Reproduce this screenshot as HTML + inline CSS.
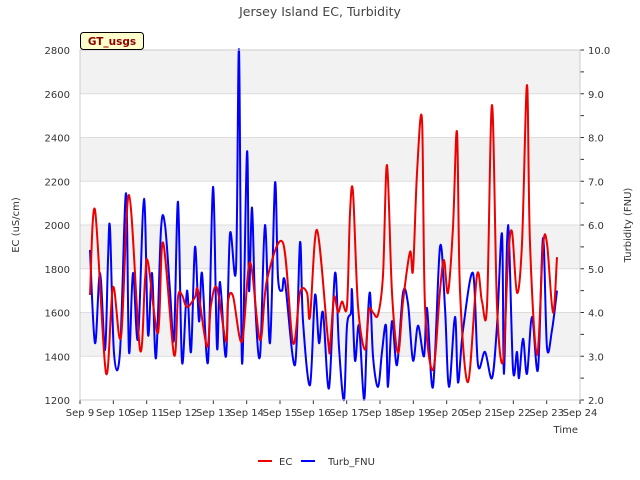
<!DOCTYPE html>
<html><head><meta charset="utf-8"><style>
body{margin:0;background:#fff}
svg{display:block;font-family:"DejaVu Sans","Liberation Sans",sans-serif}
</style></head><body>
<svg id="chart" width="640" height="480" viewBox="0 0 640 480">
<text x="320" y="16" text-anchor="middle" font-size="12.5" fill="#444">Jersey Island EC, Turbidity</text>
<g id="bands"></g><g id="grid"></g>
<g id="series"></g>
<g id="axes"></g>
<rect x="80.5" y="32.5" width="63" height="17" rx="3" fill="#ffffcc" stroke="#000"/>
<text x="112" y="45" text-anchor="middle" font-size="10.5" font-weight="bold" fill="#8b0000">GT_usgs</text>
<text transform="translate(19,225) rotate(-90)" text-anchor="middle" font-size="10" fill="#333">EC (uS/cm)</text>
<text transform="translate(631,225) rotate(-90)" text-anchor="middle" font-size="10" fill="#333">Turbidity (FNU)</text>
<text x="578" y="433" text-anchor="end" font-size="10" fill="#333">Time</text>
<g>
<line x1="258" y1="461" x2="272" y2="461" stroke="#e00" stroke-width="2"/>
<text x="279" y="465" font-size="10" fill="#333">EC</text>
<line x1="301" y1="461" x2="315" y2="461" stroke="#00f" stroke-width="2"/>
<text x="328" y="465" font-size="10" fill="#333">Turb_FNU</text>
</g>
</svg>
<script>
const xTickLabels=["Sep 9","Sep 10","Sep 11","Sep 12","Sep 13","Sep 14","Sep 15","Sep 16","Sep 17","Sep 18","Sep 19","Sep 20","Sep 21","Sep 22","Sep 23","Sep 24"];
const leftTicks=[1200,1400,1600,1800,2000,2200,2400,2600,2800];
const rightTicks=[2,3,4,5,6,7,8,9,10];
const ecDays=[0.30,0.45,0.78,0.99,1.23,1.47,1.80,1.95,2.04,2.34,2.49,2.82,2.94,3.06,3.21,3.45,3.54,3.81,3.93,4.11,4.38,4.44,4.59,4.86,5.10,5.40,5.61,6.09,6.39,6.60,6.81,6.90,7.11,7.44,7.50,7.62,7.74,7.86,8.01,8.10,8.19,8.34,8.55,8.67,8.79,8.94,9.09,9.21,9.36,9.54,9.69,9.90,9.99,10.11,10.26,10.35,10.59,10.80,10.92,11.04,11.19,11.31,11.40,11.64,11.91,12.06,12.21,12.36,12.51,12.69,12.84,12.96,13.11,13.26,13.41,13.50,13.71,13.89,14.01,14.19,14.31];
const ecValues=[1680,2069,1323,1716,1488,2137,1430,1750,1830,1506,1920,1406,1670,1680,1625,1670,1700,1443,1634,1712,1466,1650,1675,1466,1830,1474,1750,1918,1460,1690,1690,1580,1977,1474,1443,1670,1600,1650,1630,2054,2150,1630,1430,1610,1600,1590,1770,2274,1690,1415,1650,1877,1794,2237,2480,1630,1337,1700,1840,1690,1990,2425,1700,1282,1770,1650,1630,2549,1630,1374,1840,1970,1690,1915,2640,1915,1406,1900,1915,1600,1853];
const turbDays=[0.30,0.45,0.60,0.75,0.84,0.90,1.02,1.20,1.38,1.47,1.59,1.74,1.92,2.04,2.16,2.28,2.43,2.55,2.70,2.82,2.94,3.06,3.21,3.33,3.45,3.57,3.66,3.84,3.99,4.11,4.20,4.38,4.50,4.68,4.77,4.86,5.01,5.07,5.16,5.25,5.40,5.55,5.70,5.85,5.94,6.06,6.15,6.45,6.60,6.69,6.90,7.05,7.17,7.29,7.47,7.65,7.77,7.92,8.01,8.13,8.16,8.25,8.37,8.52,8.61,8.70,8.79,8.94,9.06,9.18,9.24,9.36,9.51,9.69,9.84,9.99,10.14,10.32,10.41,10.59,10.80,10.95,11.07,11.25,11.34,11.49,11.79,11.94,12.15,12.36,12.51,12.66,12.72,12.84,12.99,13.11,13.17,13.29,13.41,13.56,13.74,13.89,14.01,14.16,14.31];
const turbValues=[5.43,3.3,4.9,3.14,5.2,5.93,3.07,3.1,6.73,3.1,4.9,3.4,6.6,3.5,4.9,2.96,5.9,6.0,4.5,3.4,6.53,2.87,4.5,3.1,5.5,3.8,4.9,2.87,6.87,3.2,4.7,3.0,5.8,5.0,10.0,2.85,7.67,4.5,6.4,4.3,3.0,6.0,3.3,6.96,4.8,4.5,4.7,2.8,5.6,3.8,2.34,4.4,3.3,4.0,2.27,4.9,3.2,2.0,3.7,4.0,4.5,2.9,3.7,2.0,3.5,4.45,3.0,2.3,3.1,3.7,2.3,3.8,2.8,4.45,4.2,2.9,3.7,3.0,4.1,2.3,5.5,4.1,2.3,3.9,2.4,3.6,4.9,2.8,3.1,2.5,3.7,5.8,2.6,6.0,2.7,3.1,2.5,3.4,2.6,3.9,2.7,5.7,3.2,3.6,4.5];

const X0=80,X1=580,Y0=400,Y1=50;
const xs=d=>X0+d*(X1-X0)/15;
const yL=v=>Y0-(v-1200)*(Y0-Y1)/1600;
const yR=v=>Y0-(v-2)*(Y0-Y1)/8;
const NS="http://www.w3.org/2000/svg";
function mk(tag,attrs,parent){const e=document.createElementNS(NS,tag);for(const k in attrs)e.setAttribute(k,attrs[k]);parent.appendChild(e);return e;}
function smooth(pts){
  let d='M'+pts[0][0].toFixed(1)+','+pts[0][1].toFixed(1);
  for(let i=0;i<pts.length-1;i++){
    const p0=pts[Math.max(0,i-1)],p1=pts[i],p2=pts[i+1],p3=pts[Math.min(pts.length-1,i+2)];
    const c1=[p1[0]+(p2[0]-p0[0])/6,p1[1]+(p2[1]-p0[1])/6];
    const c2=[p2[0]-(p3[0]-p1[0])/6,p2[1]-(p3[1]-p1[1])/6];
    d+='C'+c1.map(v=>v.toFixed(1)).join(',')+' '+c2.map(v=>v.toFixed(1)).join(',')+' '+p2.map(v=>v.toFixed(1)).join(',');
  }
  return d;
}
const bands=document.getElementById('bands'),grid=document.getElementById('grid'),axes=document.getElementById('axes'),series=document.getElementById('series');
for(let i=0;i<leftTicks.length-1;i++){
  if(i%2===1){const r=mk('rect',{x:X0,y:yL(leftTicks[i+1]),width:X1-X0,height:yL(leftTicks[i])-yL(leftTicks[i+1]),fill:'#f2f2f2'},bands);
  
  }
}
leftTicks.forEach(v=>{
  const l=mk('line',{x1:X0,x2:X1,y1:yL(v),y2:yL(v),stroke:'#ddd','stroke-width':1},grid);
  
  
  const t=mk('text',{x:X0-10,y:yL(v)+4,'text-anchor':'end','font-size':10,fill:'#333'},axes);t.textContent=v;
  
  
});
rightTicks.forEach(v=>{
  const t=mk('text',{x:X1+8,y:yR(v)+4,'font-size':10,fill:'#333'},axes);t.textContent=v.toFixed(1);
  
  
  mk('line',{x1:X1,x2:X1+4,y1:yR(v),y2:yR(v),stroke:'#333'},axes);
  if(v<10){const m=mk('line',{x1:X1,x2:X1+4,y1:yR(v+0.5),y2:yR(v+0.5),stroke:'#333'},axes);
  
  }
});
xTickLabels.forEach((s,i)=>{
  const t=mk('text',{x:xs(i),y:Y0+16,'text-anchor':'middle','font-size':10,fill:'#333'},axes);t.textContent=s;
  
  
  mk('line',{x1:xs(i),x2:xs(i),y1:Y0,y2:Y0+4,stroke:'#333'},axes);
});
const frame=mk('rect',{x:X0,y:Y1,width:X1-X0,height:Y0-Y1,fill:'none',stroke:'#ccc'},axes);


const tPath=mk('path',{d:smooth(turbDays.map((d,i)=>[xs(d),yR(turbValues[i])])),fill:'none',stroke:'#00f','stroke-width':2,'stroke-linejoin':'round'},series);


const ecPath=mk('path',{d:smooth(ecDays.map((d,i)=>[xs(d),yL(ecValues[i])])),fill:'none',stroke:'#e00','stroke-width':2,'stroke-linejoin':'round'},series);


</script>
</body></html>
